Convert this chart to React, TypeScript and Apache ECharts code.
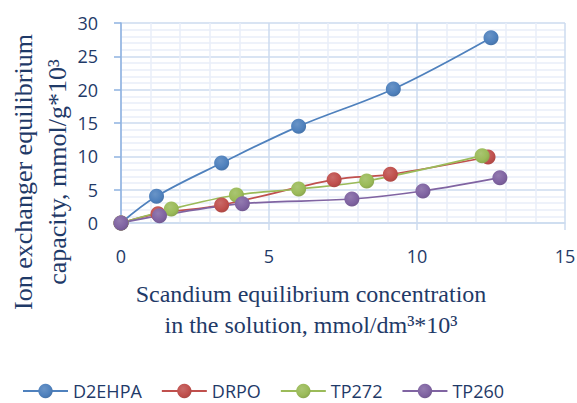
import React, { useEffect, useRef } from "react";
import * as echarts from "echarts";

const seriesNames = ["D2EHPA", "DRPO", "TP272", "TP260"];
const d2ehpaX = [0, 1.2, 3.4, 6.0, 9.2, 12.5];
const d2ehpaY = [0, 4.0, 9.0, 14.5, 20.1, 27.8];
const drpoX = [0, 1.25, 3.4, 7.2, 9.1, 12.4];
const drpoY = [0, 1.4, 2.7, 6.5, 7.3, 9.9];
const tp272X = [0, 1.7, 3.9, 6.0, 8.3, 12.2];
const tp272Y = [0, 2.1, 4.2, 5.1, 6.3, 10.1];
const tp260X = [0, 1.3, 4.1, 7.8, 10.2, 12.8];
const tp260Y = [0, 1.1, 2.9, 3.6, 4.8, 6.8];
const colors = ["#4F81BD", "#C0504D", "#9BBB59", "#8064A2"];
const xTitle1 = "Scandium equilibrium concentration";
const xTitle2 = "in the solution, mmol/dm³*10³";
const yTitle1 = "Ion exchanger equilibrium";
const yTitle2 = "capacity, mmol/g*10³";

const textColor = "#1F3A68";

function pairs(xs: number[], ys: number[]) {
  return xs.map((x, i) => [x, ys[i]]);
}

function shade(hex: string, f: number) {
  const n = parseInt(hex.slice(1), 16);
  let r = (n >> 16) & 255, g = (n >> 8) & 255, b = n & 255;
  if (f >= 0) {
    r = Math.round(r + (255 - r) * f);
    g = Math.round(g + (255 - g) * f);
    b = Math.round(b + (255 - b) * f);
  } else {
    r = Math.round(r * (1 + f));
    g = Math.round(g * (1 + f));
    b = Math.round(b * (1 + f));
  }
  return `rgb(${r},${g},${b})`;
}

export default function App() {
  const ref = useRef<HTMLDivElement>(null);
  useEffect(() => {
    if (!ref.current) return;
    const chart = echarts.init(ref.current, undefined, { renderer: "svg" });
    const data = [
      pairs(d2ehpaX, d2ehpaY),
      pairs(drpoX, drpoY),
      pairs(tp272X, tp272Y),
      pairs(tp260X, tp260Y),
    ];
    const series = seriesNames.map((name, i) => ({
      name,
      type: "line",
      smooth: 0.35,
      data: data[i],
      symbol: "circle",
      symbolSize: 15,
      lineStyle: { color: colors[i], width: 1.75 },
      itemStyle: {
        color: new echarts.graphic.RadialGradient(0.4, 0.35, 0.75, [
          { offset: 0, color: shade(colors[i], 0.15) },
          { offset: 0.6, color: colors[i] },
          { offset: 1, color: shade(colors[i], -0.15) },
        ]),
      },
      emphasis: { disabled: true },
    }));
    chart.setOption({
      animation: false,
      grid: { left: 121, right: 12, top: 23, bottom: 180, outerBoundsMode: "none" },
      xAxis: {
        type: "value",
        min: 0,
        max: 15,
        interval: 5,
        axisLine: { show: true, lineStyle: { color: "#CCDBEF", width: 1.5 } },
        axisTick: { show: true, length: 7, lineStyle: { color: "#CCDBEF", width: 1.5 } },
        axisLabel: { color: textColor, fontFamily: "Open Sans", fontSize: 18, margin: 24 },
        splitLine: { show: true, lineStyle: { color: "#CCDBEF", width: 1.5 } },
        minorTick: { show: false, splitNumber: 5 },
        minorSplitLine: { show: true, lineStyle: { color: "#E8EEF8", width: 1.5 } },
      },
      yAxis: {
        type: "value",
        min: 0,
        max: 30,
        interval: 5,
        axisLine: { show: true, lineStyle: { color: "#8EB2E0", width: 1.5 } },
        axisTick: { show: true, length: 7, lineStyle: { color: "#8EB2E0", width: 1.5 } },
        axisLabel: { color: textColor, fontFamily: "Open Sans", fontSize: 18, margin: 23 },
        splitLine: { show: true, lineStyle: { color: "#CCDBEF", width: 1.5 } },
        minorTick: { show: false, splitNumber: 5 },
        minorSplitLine: { show: true, lineStyle: { color: "#E8EEF8", width: 1.5 } },
      },
      legend: {
        left: 22,
        top: 380,
        padding: 0,
        itemWidth: 45,
        itemHeight: 18,
        itemGap: 19,
        textStyle: { color: textColor, fontFamily: "Open Sans", fontSize: 18, lineHeight: 22 },
        data: seriesNames,
      },
      graphic: [
        {
          type: "text",
          x: 311,
          y: 294,
          style: {
            text: xTitle1,
            font: "24px 'Liberation Serif'",
            fill: textColor,
            align: "center",
            verticalAlign: "middle",
          },
        },
        {
          type: "text",
          x: 311,
          y: 325,
          style: {
            text: xTitle2,
            font: "24px 'Liberation Serif'",
            fill: textColor,
            align: "center",
            verticalAlign: "middle",
          },
        },
        {
          type: "text",
          x: 23,
          y: 172,
          rotation: Math.PI / 2,
          style: {
            text: yTitle1,
            font: "26px 'Liberation Serif'",
            fill: textColor,
            align: "center",
            verticalAlign: "middle",
          },
        },
        {
          type: "text",
          x: 57,
          y: 172,
          rotation: Math.PI / 2,
          style: {
            text: yTitle2,
            font: "26px 'Liberation Serif'",
            fill: textColor,
            align: "center",
            verticalAlign: "middle",
          },
        },
      ],
      series,
    } as any);
    return () => chart.dispose();
  }, []);
  return (
    <div
      ref={ref}
      style={{ position: "fixed", left: 0, top: 0, width: 577, height: 403, background: "#fff" }}
    />
  );
}
